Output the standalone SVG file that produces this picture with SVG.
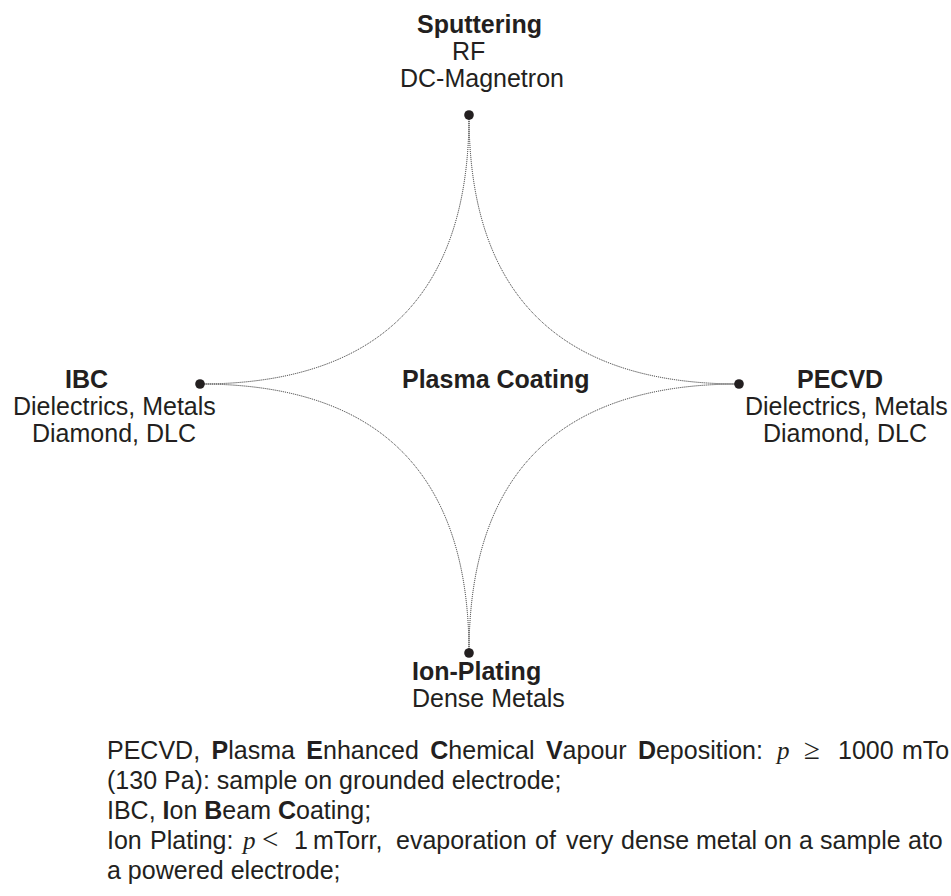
<svg xmlns="http://www.w3.org/2000/svg" width="951" height="896" viewBox="0 0 951 896">
<style>
text{font-family:"Liberation Sans",Arial,sans-serif;font-size:25px;fill:#231f20}
.b{font-weight:bold}
.m{font-family:"Liberation Serif","Times New Roman",serif;font-style:italic}
.r{font-family:"Liberation Serif","Times New Roman",serif;font-size:29px}
.c{fill:none;stroke:#222;stroke-width:1;stroke-dasharray:1 1}
.dot{fill:#231f20}
</style>
<rect width="951" height="896" fill="#fff"/>
<g id="connectors">
<path class="c" d="M469,115 Q469,384 200,384"/>
<path class="c" d="M469,115 Q469,384 739,384"/>
<path class="c" d="M469,653 Q469,384 200,384"/>
<path class="c" d="M469,653 Q469,384 739,384"/>
</g>
<g id="sputtering">
<circle class="dot" cx="469" cy="115" r="4.8"/>
<text class="b" x="417" y="33">Sputtering</text>
<text x="452" y="60">RF</text>
<text x="400" y="87">DC-Magnetron</text>
</g>
<g id="ibc">
<circle class="dot" cx="200" cy="384" r="4.8"/>
<text class="b" x="65" y="388">IBC</text>
<text x="13" y="415">Dielectrics, Metals</text>
<text x="32" y="442">Diamond, DLC</text>
</g>
<g id="pecvd">
<circle class="dot" cx="739" cy="384" r="4.8"/>
<text class="b" x="797" y="388">PECVD</text>
<text x="745" y="415">Dielectrics, Metals</text>
<text x="763" y="442">Diamond, DLC</text>
</g>
<g id="center">
<text class="b" x="402" y="388">Plasma Coating</text>
</g>
<g id="ionplating">
<circle class="dot" cx="469" cy="653" r="4.8"/>
<text class="b" x="412" y="680">Ion-Plating</text>
<text x="412" y="707">Dense Metals</text>
</g>
<g id="notes">
<text y="759"><tspan x="107">PECVD,</tspan><tspan x="211.5"><tspan class="b">P</tspan>lasma</tspan><tspan x="306.3"><tspan class="b">E</tspan>nhanced</tspan><tspan x="430.3"><tspan class="b">C</tspan>hemical</tspan><tspan x="545.9"><tspan class="b">V</tspan>apour</tspan><tspan x="637.9"><tspan class="b">D</tspan>eposition:</tspan><tspan x="777" class="m">p</tspan><tspan x="804" class="r">≥</tspan><tspan x="838">1000</tspan><tspan x="902">mTo</tspan></text>
<text x="107" y="789">(130 Pa): sample on grounded electrode;</text>
<text x="107" y="819">IBC, <tspan class="b">I</tspan>on <tspan class="b">B</tspan>eam <tspan class="b">C</tspan>oating;</text>
<text y="849"><tspan x="107">Ion</tspan><tspan x="150">Plating:</tspan><tspan x="243" class="m">p</tspan><tspan x="262" class="r">&lt;</tspan><tspan x="294">1</tspan><tspan x="313">mTorr,</tspan><tspan x="396">evaporation</tspan><tspan x="535">of</tspan><tspan x="566">very</tspan><tspan x="621">dense</tspan><tspan x="696">metal</tspan><tspan x="764">on</tspan><tspan x="799">a</tspan><tspan x="820">sample</tspan><tspan x="908">ato</tspan></text>
<text x="107" y="879">a powered electrode;</text>
</g>
</svg>
